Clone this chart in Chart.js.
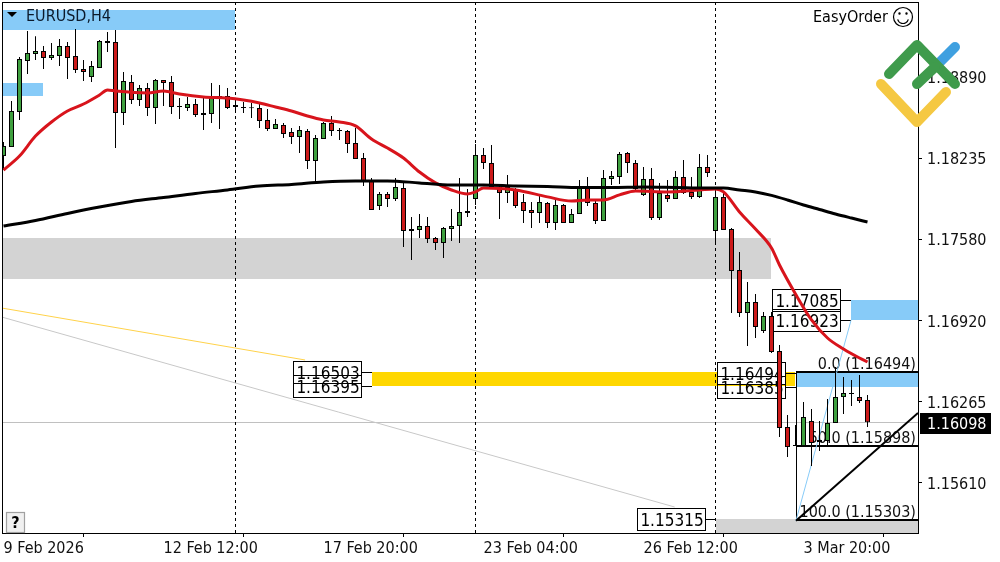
<!DOCTYPE html>
<html><head><meta charset="utf-8">
<style>html,body{margin:0;padding:0;background:#fff}canvas{display:block}</style>
<script src="https://cdn.jsdelivr.net/npm/chart.js@4"></script>
</head><body><canvas id="c" width="1000" height="562"></canvas>
<script>
const opens=[1.18251,1.18324,1.18608,1.19020,1.19077,1.19101,1.19044,1.19060,1.19141,1.19060,
1.18955,1.18890,1.18963,1.19182,1.19174,1.18600,1.18850,1.18704,1.18801,1.18640,
1.18866,1.18850,1.18656,1.18640,1.18672,1.18600,1.18592,1.18729,1.18737,1.18664,
1.18648,1.18645,1.18640,1.18543,1.18470,1.18503,1.18446,1.18405,1.18454,1.18211,
1.18389,1.18519,1.18462,1.18454,1.18357,1.18235,1.18050,1.17847,1.17945,1.17904,
1.17993,1.17661,1.17653,1.17685,1.17588,1.17548,1.17661,1.17685,1.17807,1.17904,
1.18260,1.18195,1.18001,1.17953,1.17977,1.17880,1.17815,1.17791,1.17872,1.17710,
1.17855,1.17710,1.17783,1.17993,1.17872,1.17726,1.18066,1.18082,1.18276,1.18195,
1.17937,1.18066,1.17750,1.17937,1.17904,1.18082,1.17961,1.17921,1.18162,1.17645,
1.17921,1.17661,1.17330,1.16982,1.17071,1.16837,1.16958,1.16675,1.16060,1.15915,
1.15906,1.16109,1.15939,1.15947,1.16093,1.16302,1.16335,1.16302,1.16279];
const highs=[1.18365,1.18696,1.19052,1.19262,1.19221,1.19141,1.19166,1.19197,1.19174,1.19278,
1.19028,1.19020,1.19190,1.19254,1.19270,1.18931,1.18907,1.18826,1.18842,1.18874,
1.18866,1.18898,1.18720,1.18729,1.18712,1.18720,1.18842,1.18826,1.18801,1.18704,
1.18688,1.18680,1.18680,1.18632,1.18551,1.18519,1.18478,1.18495,1.18470,1.18422,
1.18527,1.18575,1.18478,1.18462,1.18478,1.18276,1.18074,1.17961,1.17961,1.18074,
1.18034,1.17758,1.17783,1.17758,1.17596,1.17677,1.17823,1.18074,1.17985,1.18349,
1.18316,1.18341,1.18009,1.18098,1.17993,1.17945,1.17880,1.17929,1.17880,1.17896,
1.17864,1.17823,1.18058,1.18082,1.17896,1.18138,1.18130,1.18284,1.18284,1.18219,
1.18162,1.18154,1.18034,1.18058,1.18130,1.18219,1.18082,1.18268,1.18260,1.17993,
1.17961,1.17669,1.17476,1.17233,1.17136,1.16990,1.16990,1.16724,1.16158,1.16076,
1.16263,1.16206,1.16109,1.16287,1.16545,1.16464,1.16440,1.16481,1.16319];
const lows=[1.18138,1.18324,1.18543,1.18915,1.19028,1.18955,1.19028,1.18979,1.18874,1.18923,
1.18858,1.18850,1.18963,1.19093,1.18316,1.18503,1.18672,1.18656,1.18575,1.18511,
1.18656,1.18592,1.18551,1.18616,1.18567,1.18462,1.18519,1.18470,1.18632,1.18600,
1.18600,1.18559,1.18478,1.18454,1.18470,1.18397,1.18349,1.18276,1.18146,1.18042,
1.18389,1.18413,1.18381,1.18276,1.18227,1.18009,1.17815,1.17815,1.17839,1.17888,
1.17515,1.17411,1.17588,1.17548,1.17492,1.17427,1.17564,1.17548,1.17758,1.17855,
1.18146,1.18001,1.17742,1.17872,1.17831,1.17710,1.17669,1.17710,1.17669,1.17653,
1.17710,1.17710,1.17783,1.17847,1.17702,1.17726,1.18017,1.18026,1.18114,1.17961,
1.17929,1.17734,1.17734,1.17880,1.17904,1.17945,1.17904,1.17912,1.18082,1.17548,
1.17653,1.16982,1.16949,1.16715,1.16780,1.16821,1.16659,1.15979,1.15817,1.15906,
1.15906,1.15744,1.15866,1.15898,1.16093,1.16166,1.16230,1.16255,1.16060];
const closes=[1.18332,1.18616,1.19036,1.19085,1.19101,1.19044,1.19069,1.19141,1.19044,1.18947,
1.18931,1.18979,1.19182,1.19166,1.18600,1.18858,1.18704,1.18801,1.18640,1.18866,
1.18842,1.18648,1.18648,1.18672,1.18584,1.18584,1.18729,1.18737,1.18640,1.18648,
1.18640,1.18637,1.18535,1.18470,1.18511,1.18430,1.18405,1.18462,1.18211,1.18397,
1.18519,1.18454,1.18454,1.18349,1.18227,1.18050,1.17815,1.17945,1.17904,1.18001,
1.17645,1.17645,1.17685,1.17580,1.17548,1.17669,1.17685,1.17799,1.17791,1.18260,
1.18195,1.18001,1.17953,1.18001,1.17847,1.17807,1.17791,1.17880,1.17710,1.17855,
1.17710,1.17783,1.17993,1.17872,1.17726,1.18074,1.18090,1.18268,1.18195,1.17985,
1.18066,1.17750,1.17953,1.17904,1.18082,1.17953,1.17921,1.18162,1.18114,1.17921,
1.17653,1.17322,1.16982,1.17071,1.16869,1.16958,1.16667,1.16052,1.15898,1.15906,
1.16141,1.15931,1.15955,1.16093,1.16302,1.16335,1.16327,1.16271,1.16098];
const redMaBars=[0,2,4,6,8,10,12,13,14,18,20,22,25,28,30,32,34,36,38,40,42,44,46,48,50,52,54,56,58,59,60,64,68,71,73,75,77,79,83,87,89,90,92,94,96,97,99,101,103,105,107,108];
const redMaValues=[1.18138,1.18251,1.18413,1.18527,1.18616,1.18672,1.18745,1.18785,1.18777,1.18761,1.18777,1.18753,1.18729,1.18720,1.18704,1.18680,1.18648,1.18616,1.18575,1.18543,1.18527,1.18495,1.18389,1.18316,1.18235,1.18122,1.18034,1.17977,1.17945,1.17961,1.17993,1.17977,1.17921,1.17888,1.17896,1.17896,1.17937,1.17969,1.17961,1.17977,1.17985,1.17961,1.17799,1.17661,1.17508,1.17370,1.17136,1.16926,1.16780,1.16691,1.16618,1.16586];
const blackMaBars=[0,4,8,12,16,20,24,28,32,36,40,44,48,52,56,60,64,68,72,76,80,84,88,90,92,94,96,98,100,102,104,106,108];
const blackMaValues=[1.17685,1.17730,1.17787,1.17839,1.17884,1.17916,1.17949,1.17977,1.18009,1.18022,1.18042,1.18050,1.18050,1.18034,1.18017,1.18017,1.18009,1.18005,1.17997,1.17997,1.18001,1.17997,1.17993,1.17993,1.17977,1.17961,1.17933,1.17896,1.17855,1.17819,1.17783,1.17750,1.17718];
const yTicks=[1.18890,1.18235,1.17580,1.16920,1.16265,1.15610];
const xTickBars=[0,20,40,60,80,100];
const xTickLabels=["9 Feb 2026","12 Feb 12:00","17 Feb 20:00","23 Feb 04:00","26 Feb 12:00","3 Mar 20:00"];
const lastPrice=1.16098;
const periodBars=[29,59,89];
const zoneBars=[[-0.19,28.94],[-0.19,4.94],[-0.19,95.94],[46.06,98.94],[105.94,114.31],[99.06,114.31],[89.06,114.31]];
const zonePrices=[[1.19432,1.19270],[1.18842,1.18737],[1.17588,1.17257],[1.16503,1.16395],[1.17085,1.16923],[1.16494,1.16385],[1.15315,1.15203]];
const zoneKinds=["blue","blue","grey","gold","blue","blue","grey"];
const tagPrices=[1.16503,1.16395,1.16494,1.16385,1.17085,1.16923,1.15315];
const tagBars=[46.06,46.06,99.06,99.06,105.94,105.94,89.06];
const fibBars=[99.06,114.31];
const fibLevels=[1.16494,1.15898,1.15303];
const fibLabels=["0.0 (1.16494)","50.0 (1.15898)","100.0 (1.15303)"];
const goldLine=[[-0.19,1.17022],[37.7,1.16602]];
const silverLine=[[-0.19,1.16949],[83.9,1.15413]];
const channelLine=[[99.06,1.15303],[114.31,1.16174]];
const fibDiagonal=[[99.06,1.15303],[105.94,1.16923]];

const FONT='"DejaVu Sans Condensed","Noto Sans",sans-serif';
const idx=opens.map((_,i)=>i);
const pts=a=>a.map(p=>({x:p[0],y:p[1]}));
const zip=(xs,ys)=>xs.map((x,i)=>({x,y:ys[i]}));
const lineDs=(data,color,width,order,smooth)=>({type:'line',data,borderColor:color,borderWidth:width,pointRadius:0,tension:0,cubicInterpolationMode:smooth?'monotone':'default',order,fill:false,borderJoinStyle:'round'});
const bodyDs=(keep,color)=>({type:'bar',data:idx.filter(keep).map(i=>({x:i,y:[opens[i],closes[i]]})),backgroundColor:color,borderColor:'#000',borderWidth:1,borderSkipped:false,inflateAmount:0,barThickness:5,grouped:false,order:3});

const overlay={id:'overlay',
 beforeDatasetsDraw(ch){
  const c=ch.ctx,X=ch.scales.x,Y=ch.scales.y,a=ch.chartArea;
  const cs={blue:'#87CBF8',grey:'#D3D3D3',gold:'#FFD700'};
  c.save();
  zoneBars.forEach((z,i)=>{
   const x0=Math.round(X.getPixelForValue(z[0])),x1=Math.round(X.getPixelForValue(z[1]));
   const y0=Math.round(Y.getPixelForValue(zonePrices[i][0])),y1=Math.round(Y.getPixelForValue(zonePrices[i][1]));
   c.fillStyle=cs[zoneKinds[i]];c.fillRect(x0,y0,x1-x0,y1-y0);
  });
  c.strokeStyle='#C0C0C0';c.lineWidth=1;
  const ly=Math.floor(Y.getPixelForValue(lastPrice))+.5;
  c.beginPath();c.moveTo(a.left,ly);c.lineTo(a.right,ly);c.stroke();
  c.strokeStyle='#000';c.setLineDash([3,3]);
  periodBars.forEach(k=>{const x=X.getPixelForValue(k);c.beginPath();c.moveTo(x,a.top);c.lineTo(x,a.bottom);c.stroke();});
  c.setLineDash([]);
  // fibonacci frame
  const fx0=Math.round(X.getPixelForValue(fibBars[0])),fx1=X.getPixelForValue(fibBars[1]);
  const fy=fibLevels.map(v=>Math.round(Y.getPixelForValue(v))-1);
  c.beginPath();c.moveTo(fx0+.5,fy[0]);c.lineTo(fx0+.5,fy[2]);c.lineWidth=1;c.stroke();
  c.lineWidth=2;
  fy.forEach(y=>{c.beginPath();c.moveTo(fx0,y);c.lineTo(fx1,y);c.stroke();});
  c.font='16px '+FONT;c.fillStyle='#111';c.textAlign='right';c.textBaseline='middle';
  fibLabels.forEach((t,i)=>c.fillText(t,fx1-2,fy[i]-7));
  // price tags
  c.lineWidth=1;c.font='17px '+FONT;c.textAlign='center';
  tagPrices.forEach((p,i)=>{
   const xe=Math.round(X.getPixelForValue(tagBars[i])),y=Math.round(Y.getPixelForValue(p));
   c.beginPath();c.moveTo(xe-10,y+.5);c.lineTo(xe,y+.5);c.stroke();
   if(i%2===0||i===6){c.fillStyle='#fff';c.fillRect(xe-79,y-11,69,23);}
   c.strokeRect(xe-78.5,y-10.5,68,22);
   c.fillStyle='#000';c.fillText(p.toFixed(5),xe-44,y+3);
  });
  c.restore();
 },
 afterDraw(ch){
  const c=ch.ctx,Y=ch.scales.y,a=ch.chartArea;
  c.save();
  c.strokeStyle='#000';c.lineWidth=1;
  c.strokeRect(a.left+.5,a.top+.5,a.right-a.left,a.bottom-a.top);
  // symbol title
  c.fillStyle='#000';c.beginPath();c.moveTo(7,12);c.lineTo(17,12);c.lineTo(12,17);c.closePath();c.fill();
  c.font='16px '+FONT;c.textBaseline='middle';c.textAlign='left';c.fillStyle='#0b1a2b';
  c.fillText('EURUSD,H4',26,17);
  // expert name and smiley
  c.fillStyle='#000';c.fillText('EasyOrder',813,18);
  c.lineWidth=1.2;c.beginPath();c.arc(903,17,9.5,0,7);c.stroke();
  c.beginPath();c.arc(903,18,5.5,.25,Math.PI-.25);c.stroke();
  c.beginPath();c.arc(899.5,13.5,1.2,0,7);c.arc(906.5,13.5,1.2,0,7);c.fill();
  // help button
  c.fillStyle='#F0F0F0';c.strokeStyle='#A0A0A0';c.fillRect(7,513,17,19);c.strokeRect(6.5,512.5,18,20);
  c.fillStyle='#000';c.font='bold 16px '+FONT;c.textAlign='center';c.fillText('?',15.5,524);
  // last price tag
  const ly=Math.round(Y.getPixelForValue(lastPrice));
  c.fillStyle='#000';c.fillRect(920,ly-9,71,21);
  c.fillStyle='#fff';c.font='16px '+FONT;c.textAlign='left';c.fillText(lastPrice.toFixed(5),927,ly+3);
  // logo
  c.lineCap='round';c.lineJoin='round';c.lineWidth=10;
  const stroke=(col,p)=>{c.strokeStyle=col;c.beginPath();p.forEach((q,i)=>i?c.lineTo(q[0],q[1]):c.moveTo(q[0],q[1]));c.stroke();};
  stroke('#3FA0E0',[[940,62],[955,47]]);
  stroke('#F5C842',[[881,84],[917,122],[946,92]]);
  stroke('#3F9B4C',[[889,74],[917,45],[955,84]]);
  stroke('#3F9B4C',[[917,84],[935,67]]);
  c.restore();
 }};

new Chart(document.getElementById('c'),{
 type:'bar',
 data:{datasets:[
  lineDs(zip(blackMaBars,blackMaValues),'#000',3,1,true),
  lineDs(zip(redMaBars,redMaValues),'#D8141C',3,2,true),
  bodyDs(i=>closes[i]>=opens[i],'#3FA03F'),
  bodyDs(i=>closes[i]<opens[i],'#CC1A1A'),
  {type:'bar',data:idx.map(i=>({x:i,y:[lows[i],highs[i]]})),backgroundColor:'#000',borderWidth:0,inflateAmount:0,barThickness:1,grouped:false,order:4},
  lineDs(pts(channelLine),'#000',2,5),
  lineDs(pts(fibDiagonal),'#87CBF8',1,6),
  lineDs(pts(goldLine),'#FFD24A',1,7),
  lineDs(pts(silverLine),'#C8C8C8',1,8)
 ]},
 plugins:[overlay],
 options:{responsive:false,animation:false,events:[],
  layout:{padding:{left:2,top:2,right:0,bottom:0}},
  plugins:{legend:{display:false},tooltip:{enabled:false},title:{display:false}},
  scales:{
   x:{type:'linear',min:-0.1875,max:114.3125,offset:false,
    afterBuildTicks:s=>{s.ticks=xTickBars.map(v=>({value:v}));},
    afterFit:s=>{s.height=29;s.paddingLeft=0;s.paddingRight=0;},
    grid:{drawOnChartArea:false,drawTicks:true,tickLength:4,color:'#000'},border:{color:'#000'},
    ticks:{autoSkip:false,maxRotation:0,minRotation:0,align:'start',padding:2,color:'#111',font:{family:FONT,size:16},
     callback:(v,i)=>xTickLabels[i]}},
   y:{type:'linear',position:'right',min:1.15203,max:1.19497,
    afterBuildTicks:s=>{s.ticks=yTicks.map(v=>({value:v}));},
    afterFit:s=>{s.width=82;s.paddingTop=0;s.paddingBottom=0;},
    grid:{drawOnChartArea:false,drawTicks:true,tickLength:4,color:'#000'},border:{color:'#000'},
    ticks:{autoSkip:false,padding:5,labelOffset:2,color:'#111',font:{family:FONT,size:16},callback:v=>v.toFixed(5)}}
  }}
});
</script></body></html>
